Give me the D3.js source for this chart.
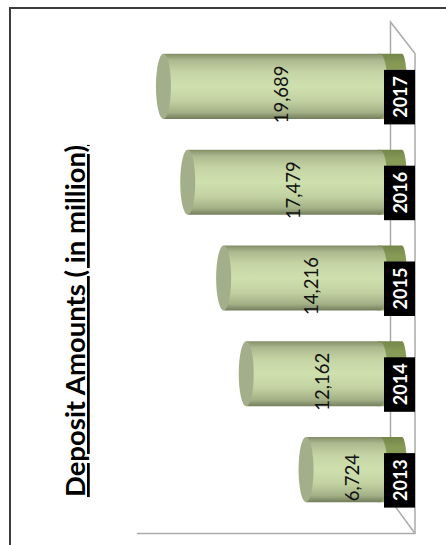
<!DOCTYPE html>
<html><head><meta charset="utf-8">
<script src="https://cdn.jsdelivr.net/npm/d3@7"></script>
<style>html,body{margin:0;padding:0;background:#fff;overflow:hidden}svg{display:block}text{font-family:Lato,"Open Sans",sans-serif;text-decoration-skip-ink:none}</style>
</head><body><div id="c"></div>
<script>
const years=["2017","2016","2015","2014","2013"];
const deposits=[19689,17479,14216,12162,6724];
const title="Deposit Amounts ( in million)";
const W=446,H=545;
const svg=d3.select("#c").append("svg").attr("width",W).attr("height",H);
const x=d3.scaleLinear().domain([0,20000]).range([380,160]);
const y=d3.scaleBand().domain(years).range([38.5,517.5]).paddingInner(0.32).paddingOuter(0.16);
const defs=svg.append("defs");
const g=defs.append("linearGradient").attr("id","body").attr("x1",0).attr("x2",0).attr("y1",0).attr("y2",1);
[[0,"#838e67"],[.1,"#acb98f"],[.28,"#c5d4a4"],[.5,"#cfe0af"],[.72,"#c2d1a1"],[.9,"#a3b086"],[1,"#727d5b"]].forEach(d=>g.append("stop").attr("offset",d[0]).attr("stop-color",d[1]));
const o=defs.append("linearGradient").attr("id","olive").attr("x1",0).attr("x2",0).attr("y1",0).attr("y2",1);
[[0,"#74854a"],[.15,"#869a55"],[1,"#92a75f"]].forEach(d=>o.append("stop").attr("offset",d[0]).attr("stop-color",d[1]));
svg.append("path").attr("d",`M10 ${H}V8H${W}`).attr("fill","none").attr("stroke","#3c3c3c").attr("stroke-width",2);
const wall=svg.append("g").attr("fill","none").attr("stroke","#aaaaaa").attr("stroke-width",1.5);
wall.append("path").attr("d","M137 533.5H415V53.5L390.5 22V455");
wall.append("path").attr("d","M390.5 500L415 533.5");
const rx=7.5;
const bars=svg.append("g").selectAll("g").data(years).join("g").attr("transform",d=>`translate(0,${y(d)})`);
const bh=y.bandwidth(), ry=bh/2;
bars.append("path").attr("fill","url(#olive)")
 .attr("d",`M${x(0)-2} 0H402A5 ${ry} 0 0 1 407 ${ry}V${bh}H${x(0)-2}Z`);
bars.append("path").attr("fill","url(#body)")
 .attr("d",(d,i)=>`M${x(deposits[i])} 0H${x(0)}A${rx} ${ry} 0 0 1 ${x(0)} ${bh}H${x(deposits[i])}Z`);
bars.append("ellipse").attr("cx",(d,i)=>x(deposits[i])).attr("cy",ry).attr("rx",rx).attr("ry",ry).attr("fill","#a2af8a");
bars.append("text").attr("text-anchor","middle").attr("font-size",18.5).attr("fill","#111")
 .attr("transform",(d,i)=>`translate(${x(deposits[i]/2)+16},${ry+8}) rotate(-90)`)
 .text((d,i)=>d3.format(",")(deposits[i]));
bars.append("rect").attr("x",384).attr("y",ry-16.5).attr("width",31).attr("height",54.5).attr("fill","#000");
bars.append("text").attr("text-anchor","middle").attr("font-size",18).attr("font-weight",700).attr("fill","#fff")
 .attr("transform",`translate(407,${ry+10.5}) rotate(-90)`).text(d=>d);
svg.append("text").attr("text-anchor","middle").attr("font-size",27.5).attr("font-weight",700).attr("fill","#000")
 .attr("text-decoration","underline").attr("transform","translate(85,321) rotate(-90)").text(title);
</script></body></html>
